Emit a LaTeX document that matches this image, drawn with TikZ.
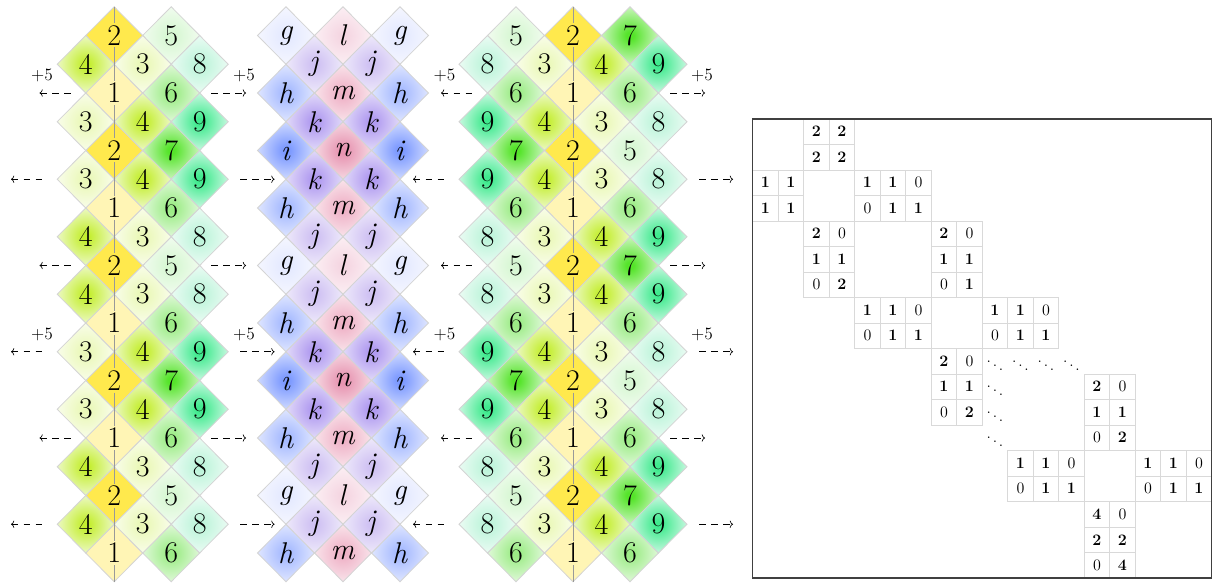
\documentclass[tikz,border=0pt]{standalone}
\usepackage{fontspec}
\usetikzlibrary{shapes.geometric,arrows.meta,calc}
\definecolor{glowin}{rgb}{1,1,1}
\definecolor{glowout}{rgb}{1,1,1}
\pgfdeclareradialshading[glowin,glowout]{glow}{\pgfpoint{0bp}{0bp}}{color(0bp)=(glowin);color(3bp)=(glowin);color(30bp)=(glowout);color(50bp)=(glowout)}
\definecolor{in1}{HTML}{FFF5B5}\definecolor{out1}{HTML}{FFF5B5}
\definecolor{in2}{HTML}{FFE94D}\definecolor{out2}{HTML}{FFE94D}
\definecolor{in3}{HTML}{EAF8B8}\definecolor{out3}{HTML}{FCFEF4}
\definecolor{in4}{HTML}{C4EE30}\definecolor{out4}{HTML}{F4FBE2}
\definecolor{in5}{HTML}{D6F7D2}\definecolor{out5}{HTML}{F7FDF5}
\definecolor{in6}{HTML}{9CEC86}\definecolor{out6}{HTML}{EEFBEA}
\definecolor{in7}{HTML}{55E42A}\definecolor{out7}{HTML}{E2F9DA}
\definecolor{in8}{HTML}{BDF4DA}\definecolor{out8}{HTML}{F4FDF9}
\definecolor{in9}{HTML}{40EA8E}\definecolor{out9}{HTML}{E4FBF1}
\definecolor{ing}{HTML}{E4E9FF}\definecolor{outg}{HTML}{F8F9FF}
\definecolor{inh}{HTML}{A6BAFF}\definecolor{outh}{HTML}{EBEFFF}
\definecolor{ini}{HTML}{7C99FF}\definecolor{outi}{HTML}{E0E7FF}
\definecolor{inj}{HTML}{D0C2F3}\definecolor{outj}{HTML}{F4F1FC}
\definecolor{ink}{HTML}{B09AF0}\definecolor{outk}{HTML}{ECE7FB}
\definecolor{inl}{HTML}{F5D6E2}\definecolor{outl}{HTML}{FDF4F7}
\definecolor{inm}{HTML}{EFB2C7}\definecolor{outm}{HTML}{FBEEF2}
\definecolor{inn}{HTML}{E794B1}\definecolor{outn}{HTML}{F9E6EC}
\tikzset{
  dia/.style={diamond, draw=black!17, line width=0.6pt, inner sep=0pt, outer sep=0pt,
    minimum width=42.75pt, minimum height=43.125pt, font=\fontsize{22.5}{26}\selectfont,
    shade, shading=glow, /utils/exec={\colorlet{glowin}{in#1}\colorlet{glowout}{out#1}}},
  vline/.style={draw=black!40, line width=0.7pt},
  arr/.style={line width=0.5pt, dash pattern=on 5pt off 4pt},
  larr/.style={arr, {To[length=2.4pt,width=5.4pt]}-},
  rarr/.style={arr, -{To[length=2.4pt,width=5.4pt]}},
  plus/.style={font=\fontsize{13}{15}\selectfont, inner sep=0pt},
  cell/.style={draw=black!15, line width=0.5pt, minimum width=19.125pt, minimum height=19.125pt,
    inner sep=0pt, outer sep=0pt, font=\fontsize{12}{14}\selectfont},
  dotcell/.style={inner sep=0pt, font=\fontsize{12}{14}\selectfont},
  frame/.style={draw=black!75, line width=0.8pt}
}
\begin{document}
\begin{tikzpicture}[x=0.75pt,y=-0.75pt]
\useasboundingbox (0,0) rectangle (1213,584);
% ---------- left column ----------
\foreach \r/\a/\b in {0/2/5,2/1/6,4/2/7,6/1/6,8/2/5,10/1/6,12/2/7,14/1/6,16/2/5,18/1/6}{
  \pgfmathsetmacro\y{35.5+28.75*\r}
  \node[dia=\a] (L-\r-0) at (114.2,\y) {\a};
  \node[dia=\b] (L-\r-2) at (171.2,\y) {\b};
}
\foreach \r/\a/\b/\c in {1/4/3/8,3/3/4/9,5/3/4/9,7/4/3/8,9/4/3/8,11/3/4/9,13/3/4/9,15/4/3/8,17/4/3/8}{
  \pgfmathsetmacro\y{35.5+28.75*\r}
  \node[dia=\a] (L-\r-m1) at (85.7,\y) {\a};
  \node[dia=\b] (L-\r-1) at (142.7,\y) {\b};
  \node[dia=\c] (L-\r-3) at (199.7,\y) {\c};
}
% ---------- middle column ----------
\foreach \r/\a/\b in {0/g/l,2/h/m,4/i/n,6/h/m,8/g/l,10/h/m,12/i/n,14/h/m,16/g/l,18/h/m}{
  \pgfmathsetmacro\y{35.5+28.75*\r}
  \node[dia=\a] (M-\r-m2) at (286,\y) {\textit{\a}};
  \node[dia=\b] (M-\r-0) at (343,\y) {\textit{\b}};
  \node[dia=\a] (M-\r-2) at (400,\y) {\textit{\a}};
}
\foreach \r/\a in {1/j,3/k,5/k,7/j,9/j,11/k,13/k,15/j,17/j}{
  \pgfmathsetmacro\y{35.5+28.75*\r}
  \node[dia=\a] (M-\r-m1) at (314.5,\y) {\textit{\a}};
  \node[dia=\a] (M-\r-1) at (371.5,\y) {\textit{\a}};
}
% ---------- right column ----------
\foreach \r/\a/\b/\c in {0/5/2/7,2/6/1/6,4/7/2/5,6/6/1/6,8/5/2/7,10/6/1/6,12/7/2/5,14/6/1/6,16/5/2/7,18/6/1/6}{
  \pgfmathsetmacro\y{35.5+28.75*\r}
  \node[dia=\a] (R-\r-m2) at (516,\y) {\a};
  \node[dia=\b] (R-\r-0) at (573,\y) {\b};
  \node[dia=\c] (R-\r-2) at (630,\y) {\c};
}
\foreach \r/\a/\b/\c/\d in {1/8/3/4/9,3/9/4/3/8,5/9/4/3/8,7/8/3/4/9,9/8/3/4/9,11/9/4/3/8,13/9/4/3/8,15/8/3/4/9,17/8/3/4/9}{
  \pgfmathsetmacro\y{35.5+28.75*\r}
  \node[dia=\a] (R-\r-m3) at (487.5,\y) {\a};
  \node[dia=\b] (R-\r-m1) at (544.5,\y) {\b};
  \node[dia=\c] (R-\r-1) at (601.5,\y) {\c};
  \node[dia=\d] (R-\r-3) at (658.5,\y) {\d};
}
% ---------- centre lines ----------
\foreach \r in {0,2,...,18}{
  \pgfmathsetmacro\y{35.5+28.75*\r}
  \foreach \x in {114.2,573}{
    \draw[vline] (\x,{\y-28.75}) -- (\x,{\y-12});
    \draw[vline] (\x,{\y+12}) -- (\x,{\y+28.75});
  }
}
% ---------- arrows ----------
\foreach \r in {2,8,14}{
  \pgfmathsetmacro\y{35.5+28.75*\r}
  \coordinate (a\r-1) at (39.5,\y); \coordinate (b\r-1) at (73.5,\y);
  \coordinate (a\r-2) at (211,\y);  \coordinate (b\r-2) at (246,\y);
  \coordinate (a\r-3) at (441,\y);  \coordinate (b\r-3) at (477,\y);
  \coordinate (a\r-4) at (670,\y);  \coordinate (b\r-4) at (705,\y);
  \draw[larr] (a\r-1) -- (b\r-1);
  \draw[rarr] (a\r-2) -- (b\r-2);
  \draw[larr] (a\r-3) -- (b\r-3);
  \draw[rarr] (a\r-4) -- (b\r-4);
}
\foreach \r in {5,11,17}{
  \pgfmathsetmacro\y{35.5+28.75*\r}
  \coordinate (a\r-1) at (11,\y);   \coordinate (b\r-1) at (45,\y);
  \coordinate (a\r-2) at (240,\y);  \coordinate (b\r-2) at (274.5,\y);
  \coordinate (a\r-3) at (413,\y);  \coordinate (b\r-3) at (447,\y);
  \coordinate (a\r-4) at (699,\y);  \coordinate (b\r-4) at (733,\y);
  \draw[larr] (a\r-1) -- (b\r-1);
  \draw[rarr] (a\r-2) -- (b\r-2);
  \draw[larr] (a\r-3) -- (b\r-3);
  \draw[rarr] (a\r-4) -- (b\r-4);
}
\foreach \r in {2,11}{
  \pgfmathsetmacro\y{35.5+28.75*\r-17.5}
  \node[plus] (p\r-1) at (42,\y) {+5};
  \node[plus] (p\r-2) at (244,\y) {+5};
  \node[plus] (p\r-3) at (444.5,\y) {+5};
  \node[plus] (p\r-4) at (702,\y) {+5};
}
% ---------- matrix ----------
\foreach \r/\c/\t in {0/2/2,0/3/2,1/2/2,1/3/2,
  2/0/1,2/1/1,2/4/1,2/5/1,
  3/0/1,3/1/1,3/5/1,3/6/1,
  4/2/2,4/7/2,
  5/2/1,5/3/1,5/7/1,5/8/1,
  6/3/2,6/8/1,
  7/4/1,7/5/1,7/9/1,7/10/1,
  8/5/1,8/6/1,8/10/1,8/11/1,
  9/7/2,
  10/7/1,10/8/1,10/13/2,
  11/8/2,11/13/1,11/14/1,
  12/14/2,
  13/10/1,13/11/1,13/15/1,13/16/1,
  14/11/1,14/12/1,14/16/1,14/17/1,
  15/13/4,
  16/13/2,16/14/2,
  17/14/4}{
  \node[cell] (m-\r-\c) at ({765.45+25.5*\c},{131.75+25.5*\r}) {\textbf{\t}};
}
\foreach \r/\c in {2/6,3/4,4/3,4/8,6/2,6/7,7/6,7/11,8/4,8/9,9/8,10/14,11/7,12/13,13/12,13/17,14/10,14/15,15/14,17/13}{
  \node[cell] (m-\r-\c) at ({765.45+25.5*\c},{131.75+25.5*\r}) {0};
}
\foreach \r/\c in {9/9,9/10,9/11,9/12,10/9,11/9,12/9}{
  \node[dotcell] (m-\r-\c) at ({765.45+25.5*\c},{131.75+25.5*\r}) {$\ddots$};
}
\draw[frame] (752.7,119) rectangle (1211.7,578);
\end{tikzpicture}
\end{document}
